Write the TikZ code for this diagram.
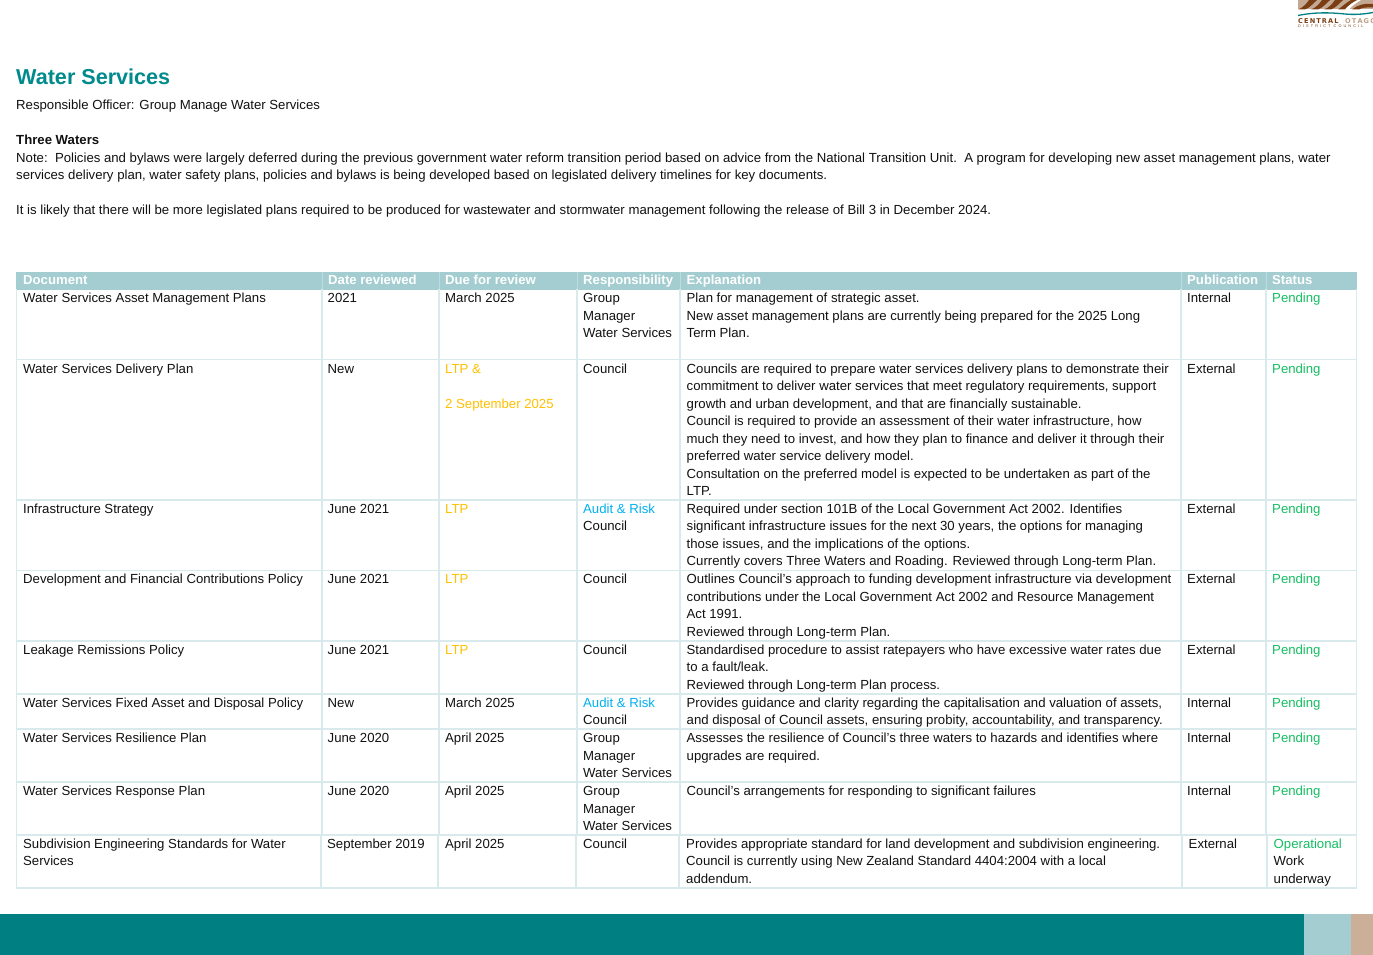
\documentclass[tikz,border=0pt]{standalone}
\usepackage{fontspec}
\setmainfont{Liberation Sans}
\newfontfamily\logofont{DejaVu Sans}
\definecolor{teal1}{HTML}{007F83}
\definecolor{teal2}{HTML}{008A8C}
\definecolor{head}{HTML}{A3CDD0}
\definecolor{grid}{HTML}{D8EAEC}
\definecolor{tan1}{HTML}{CBAF98}
\definecolor{gold}{HTML}{FFC000}
\definecolor{aud}{HTML}{00B0F0}
\definecolor{grn}{HTML}{14BE62}
\definecolor{brn}{HTML}{7A3E12}
\definecolor{ink}{HTML}{111111}
\newcounter{tn}
\newcommand{\TT}[4][ink]{\stepcounter{tn}\node[cell,text=#1] (t\thetn) at (#2,#3) {#4};}
\newcommand{\HH}[2]{\stepcounter{tn}\node[hcell] (t\thetn) at (#1,284.6) {#2};}
\begin{document}
\begin{tikzpicture}[x=1pt,y=-1pt,
  cell/.style={anchor=base west,inner sep=0pt,font=\fontsize{13.18}{16}\selectfont},
  hcell/.style={anchor=base west,inner sep=0pt,text=white,font=\fontsize{13.15}{16}\selectfont\bfseries},
  gridline/.style={draw=grid,line width=1.1pt}]
\useasboundingbox (0,0) rectangle (1373,955);
% footer
\fill[teal1] (0,914) rectangle (1303.5,955);
\fill[head] (1303.5,914) rectangle (1351,955);
\fill[tan1] (1351,914) rectangle (1373,955);
% logo
\begin{scope}
\clip (1298,0) rectangle (1373,28);
\fill[brn!45!white] (1298,0) rectangle (1373,9.5);
\foreach \a in {1298,1311,1324}
  \fill[brn] (\a,9.5) .. controls (\a+5,8) and (\a+9,3) .. (\a+11,0) -- (\a+19,0) .. controls (\a+15,4) and (\a+11,8) .. (\a+7,9.5) -- cycle;
\fill[brn] (1338,9.5) .. controls (1343,6) and (1347,2) .. (1351,0) -- (1357,0) .. controls (1352,3) and (1348,6) .. (1345,9.5) -- cycle;
\fill[white] (1345,9.5) .. controls (1349,5) and (1353,2) .. (1358,0) -- (1361,0) .. controls (1356,3) and (1352,6) .. (1349,9.5) -- cycle;
\fill[brn] (1352,9.5) .. controls (1357,5) and (1365,3) .. (1373,4) -- (1373,7.5) .. controls (1366,7) and (1361,8) .. (1359,9.5) -- cycle;
\draw[teal1,line width=1.3pt] (1298,15.5) .. controls (1315,12) and (1330,12.5) .. (1345,14) .. controls (1355,15) and (1365,14) .. (1373,12.5);
\node[anchor=base west,inner sep=0pt,text=brn,font=\logofont\fontsize{6.6}{7}\selectfont\bfseries] (logoa) at (1298,23.6) {C\,E\,N\,T\,R\,A\,L};
\node[anchor=base west,inner sep=0pt,text=brn!50!white,font=\logofont\fontsize{6.6}{7}\selectfont\bfseries] (logob) at (1345,23.6) {O\,T\,A\,G\,O};
\node[anchor=base west,inner sep=0pt,text=brn,font=\fontsize{3.8}{4}\selectfont] (logoc) at (1298,27.9) {D\ \ I\ \ S\ \ T\ \ R\ \ I\ \ C\ \ T\ \ \ C\ \ O\ \ U\ \ N\ \ C\ \ I\ \ L};
\end{scope}
% intro
\stepcounter{tn}\node[anchor=base west,inner sep=0pt,text=teal2,font=\fontsize{21.6}{26}\selectfont\bfseries] (title) at (16,85) {Water Services};
\TT{16}{109.5}{Responsible Officer: Group Manage Water Services}
\TT{16}{144.5}{\bfseries Three Waters}
\TT{16}{162}{Note:\ \ Policies and bylaws were largely deferred during the previous government water reform transition period based on advice from the National Transition Unit.\ \ A program for developing new asset management plans, water}
\TT{16}{179}{services delivery plan, water safety plans, policies and bylaws is being developed based on legislated delivery timelines for key documents.}
\TT{16}{214}{It is likely that there will be more legislated plans required to be produced for wastewater and stormwater management following the release of Bill 3 in December 2024.}
% table header
\fill[head] (16,271.5) rectangle (1357,289.5);
\foreach \x in {322,439,577,680,1181,1266} \draw[grid!50!head,line width=.8pt] (\x,272) -- (\x,289);
% grid
\foreach \y in {359.5,500,570.5,641,694,729,782,835} \draw[gridline] (16,\y) -- (1357,\y);
\draw[gridline] (16,888) -- (1357,888);
\foreach \x in {16.5,1356.5} \draw[gridline] (\x,289) -- (\x,888);
\foreach \x in {322,439,577,680,1181,1266} \draw[gridline] (\x,289) -- (\x,835);
\foreach \x in {321,438,576,679,1182,1267} \draw[gridline] (\x,835) -- (\x,888);
\HH{23}{Document}\HH{328}{Date reviewed}\HH{445}{Due for review}\HH{583}{Responsibility}\HH{686.5}{Explanation}\HH{1187}{Publication}\HH{1272}{Status}
% row 1
\TT{23}{302.5}{Water Services Asset Management Plans}
\TT{327.5}{302.5}{2021}
\TT{445}{302.5}{March 2025}
\TT{583}{302.5}{Group}\TT{583}{320}{Manager}\TT{583}{337.5}{Water Services}
\TT{686.5}{302.5}{Plan for management of strategic asset.}
\TT{686.5}{320}{New asset management plans are currently being prepared for the 2025 Long}
\TT{686.5}{337.5}{Term Plan.}
\TT{1187}{302.5}{Internal}
\TT[grn]{1272}{302.5}{Pending}
% row 2
\TT{23}{373}{Water Services Delivery Plan}
\TT{327.5}{373}{New}
\TT[gold]{445}{373}{LTP \&}
\TT[gold]{445}{408}{2 September 2025}
\TT{583}{373}{Council}
\TT{686.5}{373}{Councils are required to prepare water services delivery plans to demonstrate their}
\TT{686.5}{390.5}{commitment to deliver water services that meet regulatory requirements, support}
\TT{686.5}{408}{growth and urban development, and that are financially sustainable.}
\TT{686.5}{425.5}{Council is required to provide an assessment of their water infrastructure, how}
\TT{686.5}{443}{much they need to invest, and how they plan to finance and deliver it through their}
\TT{686.5}{460.5}{preferred water service delivery model.}
\TT{686.5}{478}{Consultation on the preferred model is expected to be undertaken as part of the}
\TT{686.5}{495}{LTP.}
\TT{1187}{373}{External}
\TT[grn]{1272}{373}{Pending}
% row 3
\TT{23}{513}{Infrastructure Strategy}
\TT{327.5}{513}{June 2021}
\TT[gold]{445}{513}{LTP}
\TT[aud]{583}{513}{Audit \& Risk}\TT{583}{530.5}{Council}
\TT{686.5}{513}{Required under section 101B of the Local Government Act 2002. Identifies}
\TT{686.5}{530.5}{significant infrastructure issues for the next 30 years, the options for managing}
\TT{686.5}{548}{those issues, and the implications of the options.}
\TT{686.5}{565.5}{Currently covers Three Waters and Roading. Reviewed through Long-term Plan.}
\TT{1187}{513}{External}
\TT[grn]{1272}{513}{Pending}
% row 4
\TT{23}{583.5}{Development and Financial Contributions Policy}
\TT{327.5}{583.5}{June 2021}
\TT[gold]{445}{583.5}{LTP}
\TT{583}{583.5}{Council}
\TT{686.5}{583.5}{Outlines Council’s approach to funding development infrastructure via development}
\TT{686.5}{601}{contributions under the Local Government Act 2002 and Resource Management}
\TT{686.5}{618.5}{Act 1991.}
\TT{686.5}{636}{Reviewed through Long-term Plan.}
\TT{1187}{583.5}{External}
\TT[grn]{1272}{583.5}{Pending}
% row 5
\TT{23}{654}{Leakage Remissions Policy}
\TT{327.5}{654}{June 2021}
\TT[gold]{445}{654}{LTP}
\TT{583}{654}{Council}
\TT{686.5}{654}{Standardised procedure to assist ratepayers who have excessive water rates due}
\TT{686.5}{671.5}{to a fault/leak.}
\TT{686.5}{689}{Reviewed through Long-term Plan process.}
\TT{1187}{654}{External}
\TT[grn]{1272}{654}{Pending}
% row 6
\TT{23}{707}{Water Services Fixed Asset and Disposal Policy}
\TT{327.5}{707}{New}
\TT{445}{707}{March 2025}
\TT[aud]{583}{707}{Audit \& Risk}\TT{583}{724.5}{Council}
\TT{686.5}{707}{Provides guidance and clarity regarding the capitalisation and valuation of assets,}
\TT{686.5}{724.5}{and disposal of Council assets, ensuring probity, accountability, and transparency.}
\TT{1187}{707}{Internal}
\TT[grn]{1272}{707}{Pending}
% row 7
\TT{23}{742.5}{Water Services Resilience Plan}
\TT{327.5}{742.5}{June 2020}
\TT{445}{742.5}{April 2025}
\TT{583}{742.5}{Group}\TT{583}{760}{Manager}\TT{583}{777}{Water Services}
\TT{686.5}{742.5}{Assesses the resilience of Council’s three waters to hazards and identifies where}
\TT{686.5}{760}{upgrades are required.}
\TT{1187}{742.5}{Internal}
\TT[grn]{1272}{742.5}{Pending}
% row 8
\TT{23}{795}{Water Services Response Plan}
\TT{327.5}{795}{June 2020}
\TT{445}{795}{April 2025}
\TT{583}{795}{Group}\TT{583}{813}{Manager}\TT{583}{830}{Water Services}
\TT{686.5}{795}{Council’s arrangements for responding to significant failures}
\TT{1187}{795}{Internal}
\TT[grn]{1272}{795}{Pending}
% row 9
\TT{23}{848}{Subdivision Engineering Standards for Water}
\TT{23}{865.5}{Services}
\TT{327}{848}{September 2019}
\TT{445}{848}{April 2025}
\TT{583}{848}{Council}
\TT{686}{848}{Provides appropriate standard for land development and subdivision engineering.}
\TT{686}{865.5}{Council is currently using New Zealand Standard 4404:2004 with a local}
\TT{686}{883}{addendum.}
\TT{1188.5}{848}{External}
\TT[grn]{1273.5}{848}{Operational}
\TT{1273.5}{865.5}{Work}
\TT{1273.5}{883}{underway}
\end{tikzpicture}
\end{document}
